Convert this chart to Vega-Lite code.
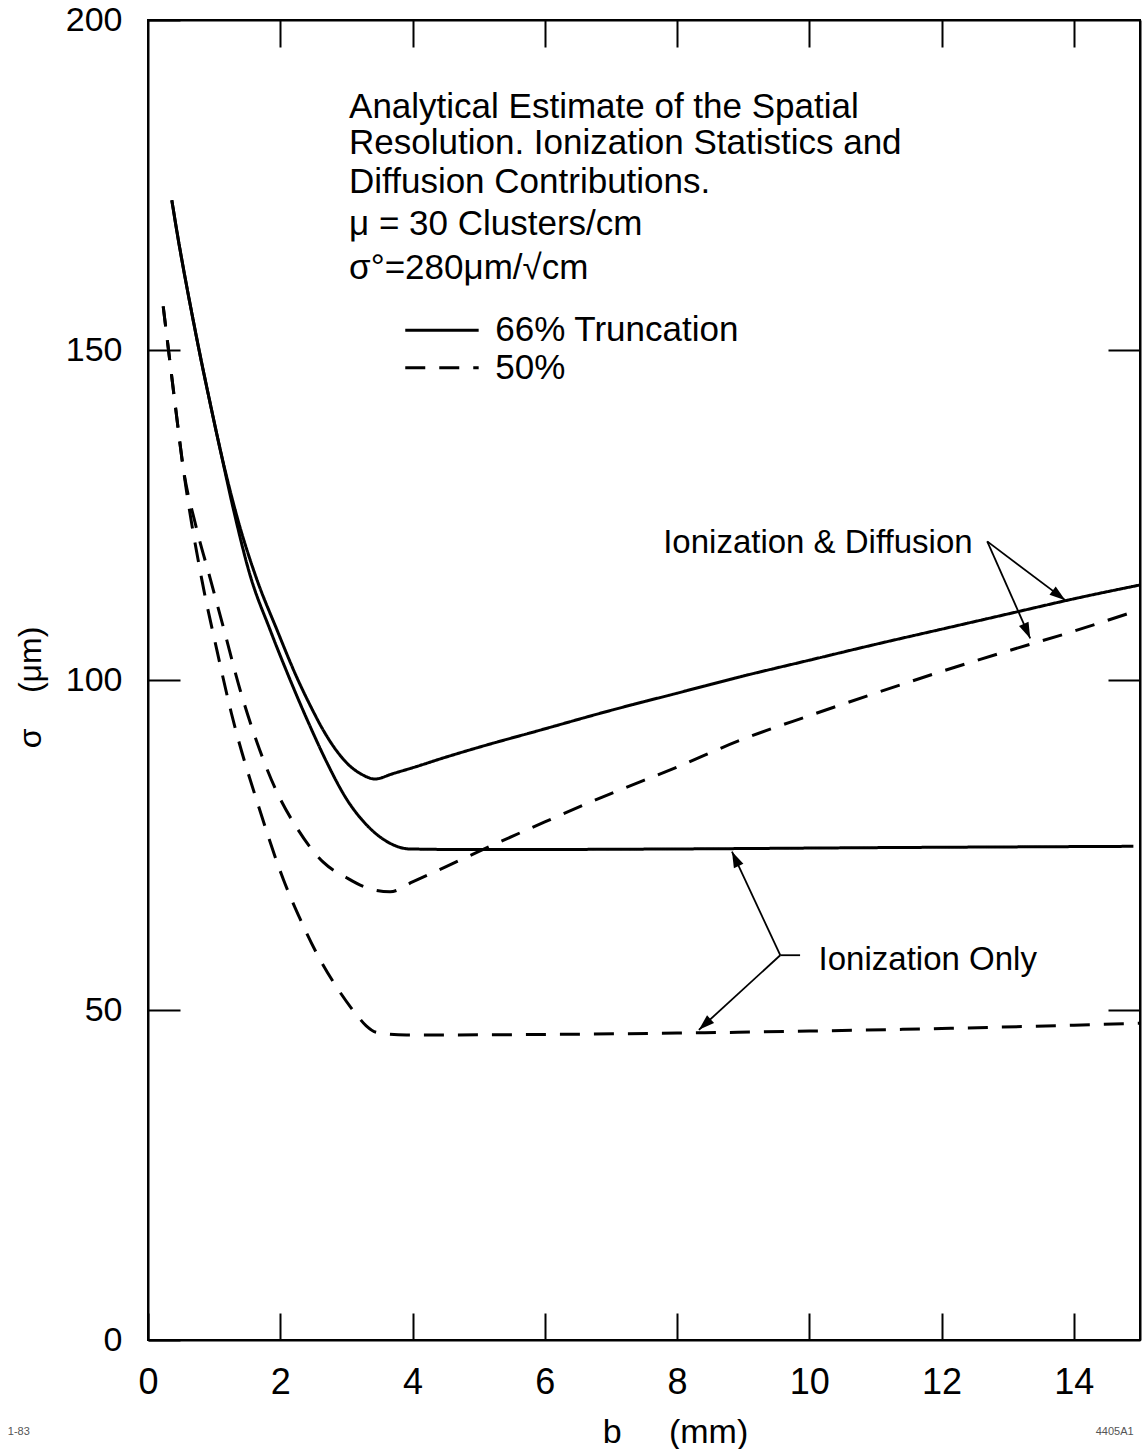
{
  "$schema": "https://vega.github.io/schema/vega-lite/v6.json",
  "width": 992,
  "height": 1320,
  "autosize": {"type": "none"},
  "padding": {"left": 148, "top": 20, "right": 2, "bottom": 109},
  "background": "white",
  "config": {
    "font": "Liberation Sans",
    "view": {"stroke": "black", "strokeWidth": 2},
    "axis": {
      "grid": false,
      "domainColor": "black",
      "domainWidth": 2,
      "tickColor": "black",
      "tickWidth": 2,
      "labelColor": "black",
      "labelFont": "Liberation Sans",
      "labelFlush": false,
      "labelOverlap": false,
      "titleColor": "black",
      "titleFont": "Liberation Sans",
      "titleFontWeight": "normal"
    }
  },
  "datasets": {
    "curves": [
      {"b": 0.36, "sigma": 172.7, "curve": "I&D 66%", "trunc": "66%"},
      {"b": 0.46, "sigma": 166.6, "curve": "I&D 66%", "trunc": "66%"},
      {"b": 0.56, "sigma": 161.0, "curve": "I&D 66%", "trunc": "66%"},
      {"b": 0.67, "sigma": 155.2, "curve": "I&D 66%", "trunc": "66%"},
      {"b": 0.78, "sigma": 149.6, "curve": "I&D 66%", "trunc": "66%"},
      {"b": 0.93, "sigma": 142.4, "curve": "I&D 66%", "trunc": "66%"},
      {"b": 1.09, "sigma": 135.0, "curve": "I&D 66%", "trunc": "66%"},
      {"b": 1.35, "sigma": 124.6, "curve": "I&D 66%", "trunc": "66%"},
      {"b": 1.64, "sigma": 115.4, "curve": "I&D 66%", "trunc": "66%"},
      {"b": 1.95, "sigma": 107.6, "curve": "I&D 66%", "trunc": "66%"},
      {"b": 2.25, "sigma": 100.4, "curve": "I&D 66%", "trunc": "66%"},
      {"b": 2.45, "sigma": 96.2, "curve": "I&D 66%", "trunc": "66%"},
      {"b": 2.65, "sigma": 92.4, "curve": "I&D 66%", "trunc": "66%"},
      {"b": 2.85, "sigma": 89.3, "curve": "I&D 66%", "trunc": "66%"},
      {"b": 3.05, "sigma": 87.0, "curve": "I&D 66%", "trunc": "66%"},
      {"b": 3.25, "sigma": 85.6, "curve": "I&D 66%", "trunc": "66%"},
      {"b": 3.43, "sigma": 85.0, "curve": "I&D 66%", "trunc": "66%"},
      {"b": 3.7, "sigma": 85.8, "curve": "I&D 66%", "trunc": "66%"},
      {"b": 4.0, "sigma": 86.7, "curve": "I&D 66%", "trunc": "66%"},
      {"b": 4.5, "sigma": 88.3, "curve": "I&D 66%", "trunc": "66%"},
      {"b": 5.0, "sigma": 89.8, "curve": "I&D 66%", "trunc": "66%"},
      {"b": 5.93, "sigma": 92.4, "curve": "I&D 66%", "trunc": "66%"},
      {"b": 7.0, "sigma": 95.4, "curve": "I&D 66%", "trunc": "66%"},
      {"b": 8.0, "sigma": 98.0, "curve": "I&D 66%", "trunc": "66%"},
      {"b": 8.96, "sigma": 100.5, "curve": "I&D 66%", "trunc": "66%"},
      {"b": 10.0, "sigma": 103.0, "curve": "I&D 66%", "trunc": "66%"},
      {"b": 11.0, "sigma": 105.4, "curve": "I&D 66%", "trunc": "66%"},
      {"b": 12.0, "sigma": 107.7, "curve": "I&D 66%", "trunc": "66%"},
      {"b": 13.0, "sigma": 110.0, "curve": "I&D 66%", "trunc": "66%"},
      {"b": 14.0, "sigma": 112.3, "curve": "I&D 66%", "trunc": "66%"},
      {"b": 15.0, "sigma": 114.4, "curve": "I&D 66%", "trunc": "66%"},

      {"b": 0.36, "sigma": 172.7, "curve": "Ion 66%", "trunc": "66%"},
      {"b": 0.46, "sigma": 166.6, "curve": "Ion 66%", "trunc": "66%"},
      {"b": 0.56, "sigma": 161.0, "curve": "Ion 66%", "trunc": "66%"},
      {"b": 0.67, "sigma": 155.2, "curve": "Ion 66%", "trunc": "66%"},
      {"b": 0.78, "sigma": 149.6, "curve": "Ion 66%", "trunc": "66%"},
      {"b": 0.93, "sigma": 142.4, "curve": "Ion 66%", "trunc": "66%"},
      {"b": 1.09, "sigma": 135.0, "curve": "Ion 66%", "trunc": "66%"},
      {"b": 1.3, "sigma": 125.5, "curve": "Ion 66%", "trunc": "66%"},
      {"b": 1.54, "sigma": 116.0, "curve": "Ion 66%", "trunc": "66%"},
      {"b": 1.85, "sigma": 107.5, "curve": "Ion 66%", "trunc": "66%"},
      {"b": 2.15, "sigma": 100.0, "curve": "Ion 66%", "trunc": "66%"},
      {"b": 2.45, "sigma": 93.0, "curve": "Ion 66%", "trunc": "66%"},
      {"b": 2.7, "sigma": 87.6, "curve": "Ion 66%", "trunc": "66%"},
      {"b": 3.0, "sigma": 82.0, "curve": "Ion 66%", "trunc": "66%"},
      {"b": 3.31, "sigma": 78.0, "curve": "Ion 66%", "trunc": "66%"},
      {"b": 3.6, "sigma": 75.6, "curve": "Ion 66%", "trunc": "66%"},
      {"b": 3.96, "sigma": 74.4, "curve": "Ion 66%", "trunc": "66%"},
      {"b": 5.0, "sigma": 74.3, "curve": "Ion 66%", "trunc": "66%"},
      {"b": 8.0, "sigma": 74.4, "curve": "Ion 66%", "trunc": "66%"},
      {"b": 11.0, "sigma": 74.6, "curve": "Ion 66%", "trunc": "66%"},
      {"b": 14.9, "sigma": 74.8, "curve": "Ion 66%", "trunc": "66%"},

      {"b": 0.23, "sigma": 156.6, "curve": "I&D 50%", "trunc": "50%"},
      {"b": 0.31, "sigma": 150.0, "curve": "I&D 50%", "trunc": "50%"},
      {"b": 0.42, "sigma": 141.0, "curve": "I&D 50%", "trunc": "50%"},
      {"b": 0.53, "sigma": 132.3, "curve": "I&D 50%", "trunc": "50%"},
      {"b": 0.72, "sigma": 123.5, "curve": "I&D 50%", "trunc": "50%"},
      {"b": 0.94, "sigma": 115.4, "curve": "I&D 50%", "trunc": "50%"},
      {"b": 1.15, "sigma": 107.6, "curve": "I&D 50%", "trunc": "50%"},
      {"b": 1.39, "sigma": 98.6, "curve": "I&D 50%", "trunc": "50%"},
      {"b": 1.65, "sigma": 90.5, "curve": "I&D 50%", "trunc": "50%"},
      {"b": 1.95, "sigma": 83.0, "curve": "I&D 50%", "trunc": "50%"},
      {"b": 2.25, "sigma": 77.6, "curve": "I&D 50%", "trunc": "50%"},
      {"b": 2.65, "sigma": 72.4, "curve": "I&D 50%", "trunc": "50%"},
      {"b": 3.01, "sigma": 70.0, "curve": "I&D 50%", "trunc": "50%"},
      {"b": 3.26, "sigma": 68.7, "curve": "I&D 50%", "trunc": "50%"},
      {"b": 3.66, "sigma": 67.9, "curve": "I&D 50%", "trunc": "50%"},
      {"b": 4.0, "sigma": 69.4, "curve": "I&D 50%", "trunc": "50%"},
      {"b": 4.5, "sigma": 71.7, "curve": "I&D 50%", "trunc": "50%"},
      {"b": 5.02, "sigma": 74.1, "curve": "I&D 50%", "trunc": "50%"},
      {"b": 6.0, "sigma": 78.5, "curve": "I&D 50%", "trunc": "50%"},
      {"b": 7.0, "sigma": 82.8, "curve": "I&D 50%", "trunc": "50%"},
      {"b": 8.0, "sigma": 86.8, "curve": "I&D 50%", "trunc": "50%"},
      {"b": 8.96, "sigma": 90.9, "curve": "I&D 50%", "trunc": "50%"},
      {"b": 10.0, "sigma": 94.6, "curve": "I&D 50%", "trunc": "50%"},
      {"b": 11.0, "sigma": 98.0, "curve": "I&D 50%", "trunc": "50%"},
      {"b": 12.0, "sigma": 101.3, "curve": "I&D 50%", "trunc": "50%"},
      {"b": 13.0, "sigma": 104.4, "curve": "I&D 50%", "trunc": "50%"},
      {"b": 14.0, "sigma": 107.4, "curve": "I&D 50%", "trunc": "50%"},
      {"b": 14.8, "sigma": 110.0, "curve": "I&D 50%", "trunc": "50%"},

      {"b": 0.23, "sigma": 156.6, "curve": "Ion 50%", "trunc": "50%"},
      {"b": 0.31, "sigma": 150.0, "curve": "Ion 50%", "trunc": "50%"},
      {"b": 0.42, "sigma": 141.0, "curve": "Ion 50%", "trunc": "50%"},
      {"b": 0.53, "sigma": 132.3, "curve": "Ion 50%", "trunc": "50%"},
      {"b": 0.81, "sigma": 115.4, "curve": "Ion 50%", "trunc": "50%"},
      {"b": 1.04, "sigma": 104.6, "curve": "Ion 50%", "trunc": "50%"},
      {"b": 1.26, "sigma": 95.0, "curve": "Ion 50%", "trunc": "50%"},
      {"b": 1.69, "sigma": 80.3, "curve": "Ion 50%", "trunc": "50%"},
      {"b": 2.05, "sigma": 69.7, "curve": "Ion 50%", "trunc": "50%"},
      {"b": 2.3, "sigma": 63.8, "curve": "Ion 50%", "trunc": "50%"},
      {"b": 2.55, "sigma": 58.6, "curve": "Ion 50%", "trunc": "50%"},
      {"b": 2.85, "sigma": 53.5, "curve": "Ion 50%", "trunc": "50%"},
      {"b": 3.16, "sigma": 49.2, "curve": "Ion 50%", "trunc": "50%"},
      {"b": 3.3, "sigma": 47.6, "curve": "Ion 50%", "trunc": "50%"},
      {"b": 3.46, "sigma": 46.6, "curve": "Ion 50%", "trunc": "50%"},
      {"b": 3.91, "sigma": 46.2, "curve": "Ion 50%", "trunc": "50%"},
      {"b": 6.0, "sigma": 46.3, "curve": "Ion 50%", "trunc": "50%"},
      {"b": 8.0, "sigma": 46.5, "curve": "Ion 50%", "trunc": "50%"},
      {"b": 10.0, "sigma": 46.8, "curve": "Ion 50%", "trunc": "50%"},
      {"b": 12.0, "sigma": 47.2, "curve": "Ion 50%", "trunc": "50%"},
      {"b": 14.0, "sigma": 47.7, "curve": "Ion 50%", "trunc": "50%"},
      {"b": 15.0, "sigma": 48.0, "curve": "Ion 50%", "trunc": "50%"}
    ],
    "legendKeys": [
      {"b": 3.89, "b2": 5.0, "sigma": 153.0, "trunc": "66%"},
      {"b": 3.89, "b2": 5.0, "sigma": 147.3, "trunc": "50%"}
    ],
    "arrows": [
      {"arrow": "a1", "b": 12.69, "sigma": 121.0, "b2": 13.87, "sigma2": 112.1},
      {"arrow": "a2", "b": 12.69, "sigma": 121.0, "b2": 13.34, "sigma2": 106.3},
      {"arrow": "a3", "b": 9.56, "sigma": 58.3, "b2": 8.83, "sigma2": 74.0},
      {"arrow": "a4", "b": 9.56, "sigma": 58.3, "b2": 8.33, "sigma2": 47.0},
      {"arrow": "stub", "b": 9.56, "sigma": 58.3, "b2": 9.86, "sigma2": 58.3}
    ],
    "block": [
      {"b": 3.04, "sigma": 186.8, "text": "Analytical Estimate of the Spatial"},
      {"b": 3.04, "sigma": 181.4, "text": "Resolution. Ionization Statistics and"},
      {"b": 3.04, "sigma": 175.5, "text": "Diffusion Contributions."},
      {"b": 3.04, "sigma": 169.1, "text": "μ = 30 Clusters/cm"},
      {"b": 3.04, "sigma": 162.4, "text": "σ°=280μm/√cm"},
      {"b": 5.25, "sigma": 153.0, "text": "66% Truncation"},
      {"b": 5.25, "sigma": 147.3, "text": "50%"}
    ],
    "labels": [
      {"b": 7.79, "sigma": 120.8, "text": "Ionization & Diffusion"},
      {"b": 10.14, "sigma": 57.6, "text": "Ionization Only"}
    ],
    "stamps": [
      {"b": -2.12, "sigma": -13.9, "text": "1-83"},
      {"b": 14.33, "sigma": -13.9, "text": "4405A1"}
    ]
  },
  "layer": [
    {
      "data": {"name": "curves"},
      "mark": {"type": "line", "color": "black", "strokeWidth": 3, "interpolate": "monotone"},
      "encoding": {
        "x": {"field": "b", "type": "quantitative", "scale": {"domain": [0, 15], "nice": false, "zero": false},
          "axis": {"orient": "bottom", "values": [0, 2, 4, 6, 8, 10, 12, 14], "tickSize": -27, "labelFontSize": 36, "labelPadding": 52,
            "title": "b\u00a0\u00a0\u00a0\u00a0\u00a0(mm)", "titleFontSize": 34, "titleX": 527, "titleY": 92, "titleBaseline": "middle"}},
        "y": {"field": "sigma", "type": "quantitative", "scale": {"domain": [0, 200], "nice": false, "zero": false},
          "axis": {"orient": "left", "values": [0, 50, 100, 150, 200], "tickSize": -32, "labelFontSize": 34, "labelPadding": 58,
            "title": "σ\u00a0\u00a0\u00a0\u00a0(μm)", "titleFontSize": 32, "titleX": -118, "titleY": 667, "titleBaseline": "middle", "titleAngle": -90}},
        "detail": {"field": "curve"},
        "strokeDash": {"field": "trunc", "type": "nominal", "scale": {"domain": ["66%", "50%"], "range": [[1, 0], [20, 14]]}, "legend": null}
      }
    },
    {
      "data": {"name": "legendKeys"},
      "mark": {"type": "rule", "color": "black", "strokeWidth": 3},
      "encoding": {
        "x": {"field": "b", "type": "quantitative", "scale": {"domain": [0, 15], "nice": false, "zero": false},
          "axis": {"orient": "top", "values": [2, 4, 6, 8, 10, 12, 14], "tickSize": -27, "labels": false, "title": null}},
        "x2": {"field": "b2"},
        "y": {"field": "sigma", "type": "quantitative", "scale": {"domain": [0, 200], "nice": false, "zero": false},
          "axis": {"orient": "right", "values": [50, 100, 150], "tickSize": -32, "labels": false, "title": null}},
        "strokeDash": {"field": "trunc", "type": "nominal", "scale": {"domain": ["66%", "50%"], "range": [[1, 0], [18, 10]]}, "legend": null}
      }
    },
    {
      "data": {"name": "arrows"},
      "mark": {"type": "rule", "color": "black", "strokeWidth": 1.8},
      "encoding": {
        "x": {"field": "b", "type": "quantitative", "axis": null},
        "x2": {"field": "b2"},
        "y": {"field": "sigma", "type": "quantitative", "axis": null},
        "y2": {"field": "sigma2"}
      }
    },
    {
      "data": {"name": "arrows"},
      "transform": [{"filter": "datum.arrow === 'a1'"}],
      "mark": {"type": "point", "filled": true, "color": "black", "opacity": 1, "size": 1000, "angle": 126.7, "shape": "M0,0L0.33,1L-0.33,1Z"},
      "encoding": {
        "x": {"field": "b2", "type": "quantitative", "axis": null},
        "y": {"field": "sigma2", "type": "quantitative", "axis": null}
      }
    },
    {
      "data": {"name": "arrows"},
      "transform": [{"filter": "datum.arrow === 'a2'"}],
      "mark": {"type": "point", "filled": true, "color": "black", "opacity": 1, "size": 1000, "angle": 155.9, "shape": "M0,0L0.33,1L-0.33,1Z"},
      "encoding": {
        "x": {"field": "b2", "type": "quantitative", "axis": null},
        "y": {"field": "sigma2", "type": "quantitative", "axis": null}
      }
    },
    {
      "data": {"name": "arrows"},
      "transform": [{"filter": "datum.arrow === 'a3'"}],
      "mark": {"type": "point", "filled": true, "color": "black", "opacity": 1, "size": 1000, "angle": 335, "shape": "M0,0L0.33,1L-0.33,1Z"},
      "encoding": {
        "x": {"field": "b2", "type": "quantitative", "axis": null},
        "y": {"field": "sigma2", "type": "quantitative", "axis": null}
      }
    },
    {
      "data": {"name": "arrows"},
      "transform": [{"filter": "datum.arrow === 'a4'"}],
      "mark": {"type": "point", "filled": true, "color": "black", "opacity": 1, "size": 1000, "angle": 227.6, "shape": "M0,0L0.33,1L-0.33,1Z"},
      "encoding": {
        "x": {"field": "b2", "type": "quantitative", "axis": null},
        "y": {"field": "sigma2", "type": "quantitative", "axis": null}
      }
    },
    {
      "data": {"name": "block"},
      "mark": {"type": "text", "align": "left", "baseline": "middle", "fontSize": 35, "color": "black", "font": "Liberation Sans"},
      "encoding": {
        "x": {"field": "b", "type": "quantitative", "axis": null},
        "y": {"field": "sigma", "type": "quantitative", "axis": null},
        "text": {"field": "text"}
      }
    },
    {
      "data": {"name": "labels"},
      "mark": {"type": "text", "align": "left", "baseline": "middle", "fontSize": 33, "color": "black", "font": "Liberation Sans"},
      "encoding": {
        "x": {"field": "b", "type": "quantitative", "axis": null},
        "y": {"field": "sigma", "type": "quantitative", "axis": null},
        "text": {"field": "text"}
      }
    },
    {
      "data": {"name": "stamps"},
      "mark": {"type": "text", "align": "left", "baseline": "middle", "fontSize": 11, "color": "#555555", "font": "Liberation Sans"},
      "encoding": {
        "x": {"field": "b", "type": "quantitative", "axis": null},
        "y": {"field": "sigma", "type": "quantitative", "axis": null},
        "text": {"field": "text"}
      }
    }
  ],
  "resolve": {"axis": {"x": "independent", "y": "independent"}}
}
